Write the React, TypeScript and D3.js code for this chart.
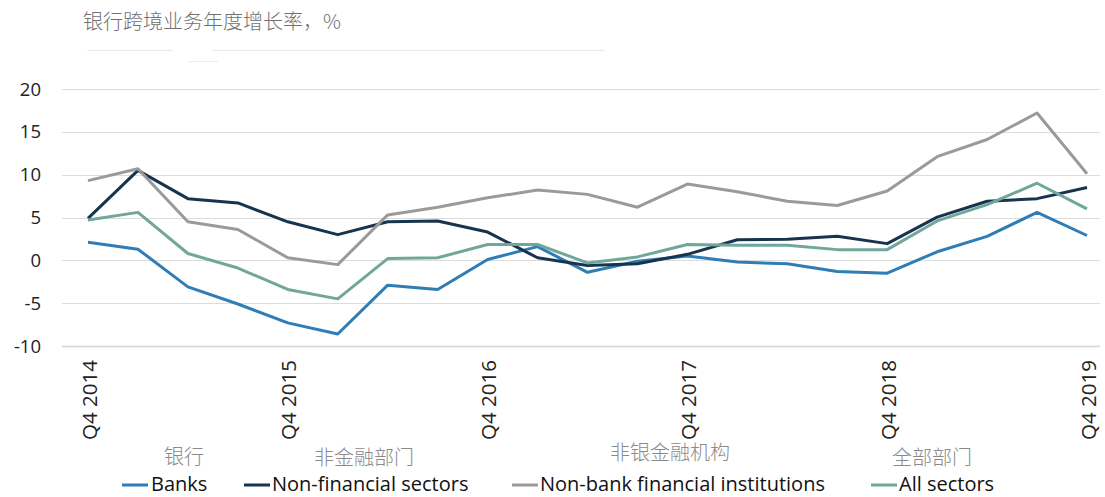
import React from "react";
import * as d3 from "d3";

const quarters: string[] = [
  "Q4 2014", "Q1 2015", "Q2 2015", "Q3 2015", "Q4 2015", "Q1 2016", "Q2 2016", "Q3 2016",
  "Q4 2016", "Q1 2017", "Q2 2017", "Q3 2017", "Q4 2017", "Q1 2018", "Q2 2018", "Q3 2018",
  "Q4 2018", "Q1 2019", "Q2 2019", "Q3 2019", "Q4 2019",
];
const tickLabels: string[] = ["Q4 2014", "Q4 2015", "Q4 2016", "Q4 2017", "Q4 2018", "Q4 2019"];
const yTicks: number[] = [-10, -5, 0, 5, 10, 15, 20];

const banks: number[] = [2.1, 1.3, -3.1, -5.1, -7.3, -8.6, -2.9, -3.4, 0.1, 1.6, -1.4, -0.1, 0.5, -0.2, -0.4, -1.3, -1.5, 1.0, 2.8, 5.6, 2.9];
const nonFinancial: number[] = [4.9, 10.5, 7.2, 6.7, 4.5, 3.0, 4.5, 4.6, 3.3, 0.3, -0.6, -0.4, 0.7, 2.4, 2.45, 2.8, 1.95, 5.05, 6.9, 7.2, 8.5];
const nonBank: number[] = [9.3, 10.7, 4.5, 3.6, 0.3, -0.5, 5.3, 6.2, 7.3, 8.2, 7.7, 6.2, 8.9, 8.0, 6.9, 6.4, 8.1, 12.1, 14.1, 17.2, 10.1];
const allSectors: number[] = [4.7, 5.6, 0.8, -0.9, -3.4, -4.5, 0.2, 0.3, 1.85, 1.85, -0.3, 0.4, 1.85, 1.75, 1.75, 1.25, 1.25, 4.6, 6.5, 9.0, 6.0];

const seriesNames: string[] = ["Banks", "Non-financial sectors", "Non-bank financial institutions", "All sectors"];
const seriesCn: string[] = ["银行", "非金融部门", "非银金融机构", "全部部门"];
const seriesColors: string[] = ["#2f7db6", "#17344f", "#9a9a9a", "#71a79b"];
const seriesData: number[][] = [banks, nonFinancial, nonBank, allSectors];

const title = "银行跨境业务年度增长率，%";

export default function App() {
  const W = 1105;
  const H = 497;
  const x = d3.scalePoint<string>().domain(quarters).range([88, 1087]);
  const y = d3.scaleLinear().domain([-10, 20]).range([346, 89]);
  const line = d3
    .line<number>()
    .x((_, i) => x(quarters[i]) as number)
    .y((d) => y(d));

  const latin = "'Open Sans', 'Liberation Sans', sans-serif";
  const cjk = "'Noto Sans CJK SC', sans-serif";

  // legend layout
  const legendItems = [
    { lx: 122, tx: 151, cx: 184, cy: 464 },
    { lx: 244, tx: 272, cx: 364, cy: 465 },
    { lx: 512, tx: 540, cx: 670, cy: 460 },
    { lx: 871, tx: 899, cx: 932, cy: 465 },
  ];

  return (
    <svg
      width={W}
      height={H}
      style={{ position: "absolute", left: 0, top: 0, background: "#fff" }}
    >
      <rect x={0} y={0} width={W} height={H} fill="#fff" />
      <text x={83} y={29} fontFamily={cjk} fontSize={20} fill="#707070" fontWeight={300}>
        {title}
      </text>
      <line x1={87} x2={173} y1={50.5} y2={50.5} stroke="#e8e8e8" strokeWidth={1} />
      <line x1={212} x2={605} y1={50.5} y2={50.5} stroke="#e8e8e8" strokeWidth={1} />
      <line x1={188} x2={218} y1={61.5} y2={61.5} stroke="#ececec" strokeWidth={1} />

      {yTicks.map((t) => (
        <g key={t}>
          <line
            x1={62}
            x2={1100}
            y1={Math.round(y(t)) + 0.5}
            y2={Math.round(y(t)) + 0.5}
            stroke={t === -10 ? "#d4d4d4" : "#dcdcdc"}
            strokeWidth={t === -10 ? 1.5 : 1}
          />
          <text
            x={41}
            y={y(t)}
            dy="0.36em"
            textAnchor="end"
            fontFamily={latin}
            fontSize={18.5}
            fill="#222"
          >
            {t}
          </text>
        </g>
      ))}

      {tickLabels.map((q) => (
        <text
          key={q}
          transform={`translate(${(x(q) as number) + 8.5},360) rotate(-90)`}
          textAnchor="end"
          fontFamily={latin}
          fontSize={20.5}
          fill="#222"
        >
          {q}
        </text>
      ))}

      {seriesData.map((s, k) => (
        <path
          key={seriesNames[k]}
          d={line(s) || ""}
          fill="none"
          stroke={seriesColors[k]}
          strokeWidth={3}
          strokeLinejoin="round"
        />
      ))}

      {seriesNames.map((n, k) => {
        const it = legendItems[k];
        return (
          <g key={n}>
            <text
              x={it.cx}
              y={it.cy}
              textAnchor="middle"
              fontFamily={cjk}
              fontSize={20}
              fontWeight={300}
              fill="#8a8a8a"
            >
              {seriesCn[k]}
            </text>
            <line x1={it.lx} x2={it.lx + 26} y1={485} y2={485} stroke={seriesColors[k]} strokeWidth={3} />
            <text x={it.tx} y={491} fontFamily={latin} fontSize={20} fill="#111">
              {n}
            </text>
          </g>
        );
      })}
    </svg>
  );
}
